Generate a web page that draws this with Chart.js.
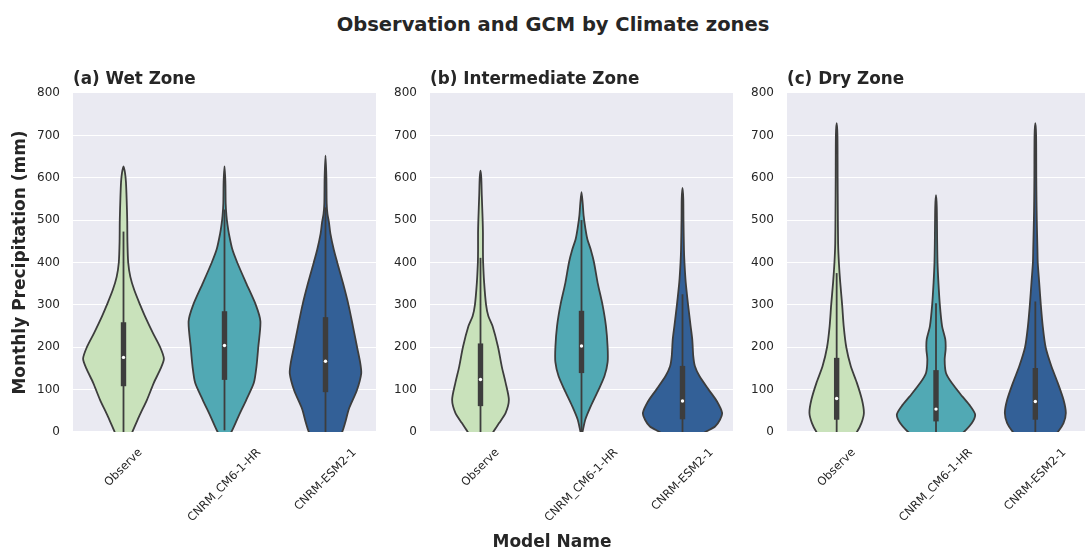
<!DOCTYPE html>
<html>
<head>
<meta charset="utf-8">
<script src="https://cdn.jsdelivr.net/npm/chart.js@4.4.1/dist/chart.umd.min.js"></script>
<style>
  html, body { margin: 0; padding: 0; background: #ffffff; }
  #fig { position: relative; width: 1089px; height: 551px; overflow: hidden;
         font-family: "DejaVu Sans", sans-serif; color: #262626; }
  #fig canvas { position: absolute; top: 0; }
  #suptitle { position: absolute; left: 0; width: 1106px; top: 15px; text-align: center;
              font-weight: bold; font-size: 19.5px; line-height: 19.5px; white-space: nowrap; }
  #xlabel { position: absolute; left: 0; width: 1104px; top: 533px; text-align: center;
            font-weight: bold; font-size: 17px; line-height: 17px; white-space: nowrap; }
</style>
</head>
<body>
<div id="fig">
  <div id="suptitle">Observation and GCM by Climate zones</div>
  <canvas id="wet" width="380" height="551" style="left:0px;width:380px;height:551px"></canvas>
  <canvas id="inter" width="357" height="551" style="left:380px;width:357px;height:551px"></canvas>
  <canvas id="dry" width="352" height="551" style="left:737px;width:352px;height:551px"></canvas>
  <div id="xlabel">Model Name</div>
</div>
<script>
// Models on the x axis and zone panel titles
const models = ['Observe', 'CNRM_CM6-1-HR', 'CNRM-ESM2-1'];
const zoneTitles = ['(a) Wet Zone', '(b) Intermediate Zone', '(c) Dry Zone'];
const yTicks = [0, 100, 200, 300, 400, 500, 600, 700, 800];

// Kernel density profiles: [monthly precipitation (mm), relative density]
const wetObserve = [[-50,0],[-25,4],[0,9],[37,16],[76,24],[116,31],[150,38],[173,41.3],[200,37.5],[234,30],[273,22],[300,17],[335,11],[366,7],[400,4.8],[450,4],[500,3.8],[550,3.2],[590,2.5],[612,1.5],[627,0]];
const wetCM6 = [[-25,0],[-10,3.5],[0,7],[37,14.3],[76,22.3],[116,30],[155,32.7],[200,34.5],[261,36.7],[300,32],[352,22],[400,13],[431,8],[468,4.5],[490,3],[510,2],[540,1.2],[590,0.9],[627,0]];
const wetESM2 = [[-70,0],[-45,4],[-20,11],[0,17],[21,20],[55,24],[98,32],[138,36.5],[163,35.5],[200,32.3],[250,28],[300,23.5],[352,17.8],[400,12],[430,8.5],[468,5],[495,3.5],[515,2],[540,1.2],[600,0.9],[652,0]];

const interObserve = [[-40,0],[-20,6],[0,13],[21,19],[45,25.7],[76,29],[116,25.7],[155,21.7],[200,18],[250,12.3],[274,8],[300,5.7],[353,3.7],[400,2.7],[430,2.5],[470,2.5],[500,2.2],[560,1.3],[600,0.8],[617,0]];
const interCM6 = [[-10,0],[0,1],[30,4],[61,9.5],[100,17.5],[132,23.5],[165,26.7],[200,26.7],[250,25],[300,21.5],[352,16.5],[400,12.8],[430,9.5],[455,6],[480,4],[510,2.2],[540,1.2],[566,0]];
const interESM2 = [[-55,0],[-35,6],[-15,14],[0,23.3],[13,33.3],[29,38.3],[45,40.5],[73,35],[100,26.7],[132,17.3],[155,12.7],[179,11],[218,10],[250,8.3],[300,5.7],[353,3.3],[400,2],[430,1.5],[500,1],[550,0.8],[576,0]];

const dryObserve = [[-70,0],[-45,6],[-20,14],[0,21],[21,25.7],[45,28.3],[76,26.3],[116,21],[155,14.7],[200,10],[250,7.3],[300,5.7],[353,3.7],[400,2.3],[445,1.5],[524,1.2],[600,1],[700,0.8],[729,0]];
const dryCM6 = [[-60,0],[-40,8],[-20,18],[0,29],[21,37.3],[41,40.7],[61,35.7],[84,27.3],[116,16.3],[140,10.3],[171,9],[195,10],[218,9.7],[250,6.3],[300,4],[353,2.5],[398,1.6],[450,1.2],[530,0.8],[559,0]];
const dryESM2 = [[-70,0],[-45,6],[-20,15],[0,23.3],[21,29.3],[45,31.7],[76,29.3],[116,23.3],[155,16.7],[200,10.7],[250,7.7],[300,5.7],[353,4],[400,2.5],[430,2.2],[500,1.5],[547,1.2],[600,1],[700,0.8],[729,0]];

// Inner box summaries: [whisker low, Q1, median, Q3, whisker high] in mm
const wetBoxes = [[0,108,176,259,473],[4,123,204,285,525],[0,94,167,271,530]];
const interBoxes = [[0,61,124,209,411],[0,139,203,286,500],[0,30,73,156,325]];
const dryBoxes = [[0,29,79,175,375],[0,25,54,146,304],[0,29,72,151,308]];

const modelColors = ['#c9e2bb', '#51a9b4', '#336097'];
const GRAY = '#3d3d3d';
const FONT = '"DejaVu Sans", sans-serif';
const HALF_WIDTH = 0.4;   // widest violin half-width, in category units
const LINE_W = 1.8;

const allProfiles = [wetObserve, wetCM6, wetESM2, interObserve, interCM6, interESM2, dryObserve, dryCM6, dryESM2];
const maxDensity = Math.max(...allProfiles.flat().map(p => p[1]));

// Closed outline: right side bottom->top, then left side top->bottom
function violinOutline(profile, center) {
  const right = profile.map(([v, d]) => ({ x: center + d / maxDensity * HALF_WIDTH, y: v }));
  const left = profile.slice().reverse().slice(1).map(([v, d]) => ({ x: center - d / maxDensity * HALF_WIDTH, y: v }));
  return right.concat(left);
}

// Plot background
const backgroundPlugin = {
  id: 'panelBackground',
  beforeDraw(chart) {
    const { ctx, chartArea: a } = chart;
    ctx.save();
    ctx.fillStyle = '#eaeaf2';
    ctx.fillRect(a.left, a.top, a.right - a.left, a.bottom - a.top);
    ctx.restore();
  }
};

// Category labels rotated 45 degrees, centred under each model
const xLabelPlugin = {
  id: 'rotatedCategoryLabels',
  afterDraw(chart) {
    const { ctx, chartArea: a } = chart;
    const xs = chart.scales.x;
    const size = 11.5;
    ctx.save();
    ctx.font = size + 'px ' + FONT;
    ctx.fillStyle = '#262626';
    ctx.textAlign = 'center';
    ctx.textBaseline = 'middle';
    models.forEach((name, i) => {
      const w = ctx.measureText(name).width;
      const boxH = (w + size * 1.164) / Math.SQRT2;
      const cx = xs.getPixelForValue(i);
      const cy = a.bottom + 14 + boxH / 2;
      ctx.save();
      ctx.translate(cx, cy);
      ctx.rotate(-Math.PI / 4);
      ctx.fillText(name, 0, 0);
      ctx.restore();
    });
    ctx.restore();
  }
};

function buildPanel(canvasId, title, profiles, boxes, axisWidth, rightPad, showYTitle) {
  const datasets = [];
  profiles.forEach((profile, i) => {
    datasets.push({
      type: 'line', data: violinOutline(profile, i),
      borderColor: GRAY, borderWidth: LINE_W, backgroundColor: modelColors[i],
      fill: 'shape', pointRadius: 0, tension: 0.25, order: 10, clip: 0
    });
  });
  boxes.forEach((b, i) => {
    datasets.push({
      type: 'line', data: [{ x: i, y: b[0] }, { x: i, y: b[4] }],
      borderColor: GRAY, borderWidth: LINE_W, pointRadius: 0, fill: false, order: 6, clip: 0
    });
    datasets.push({
      type: 'line', data: [{ x: i, y: b[1] }, { x: i, y: b[3] }],
      borderColor: GRAY, borderWidth: LINE_W * 3, borderCapStyle: 'butt', pointRadius: 0, fill: false, order: 5, clip: 0
    });
    datasets.push({
      type: 'scatter', data: [{ x: i, y: b[2] }],
      pointRadius: 1.7, pointBackgroundColor: '#ffffff', pointBorderWidth: 0, order: 1
    });
  });

  return new Chart(document.getElementById(canvasId), {
    type: 'line',
    data: { datasets },
    options: {
      responsive: false,
      animation: false,
      devicePixelRatio: 1,
      layout: { padding: { top: 69.84, bottom: 119, left: 0, right: rightPad } },
      elements: { line: { capBezierPoints: false } },
      scales: {
        x: { type: 'linear', min: -0.5, max: 2.5, display: false },
        y: {
          type: 'linear', min: 0, max: 800,
          afterBuildTicks: s => { s.ticks = yTicks.map(v => ({ value: v })); },
          afterFit: s => { s.width = axisWidth; },
          ticks: { padding: 13, color: '#262626', font: { family: FONT, size: 12 } },
          grid: { color: '#ffffff', lineWidth: 1.1, drawTicks: false },
          border: { display: false },
          title: {
            display: showYTitle, text: 'Monthly Precipitation (mm)', color: '#262626',
            font: { family: FONT, size: 17, weight: 'bold' }, padding: { top: 10.8, bottom: 0 }
          }
        }
      },
      plugins: {
        legend: { display: false },
        tooltip: { enabled: false },
        title: {
          display: true, text: title, align: 'start', fullSize: false, color: '#262626',
          font: { family: FONT, size: 16.8, weight: 'bold' }, padding: { top: 0, bottom: 3 }
        }
      }
    },
    plugins: [backgroundPlugin, xLabelPlugin]
  });
}

buildPanel('wet', zoneTitles[0], [wetObserve, wetCM6, wetESM2], wetBoxes, 73, 4, true);
buildPanel('inter', zoneTitles[1], [interObserve, interCM6, interESM2], interBoxes, 50, 4, false);
buildPanel('dry', zoneTitles[2], [dryObserve, dryCM6, dryESM2], dryBoxes, 50, 0, false);
</script>
</body>
</html>
